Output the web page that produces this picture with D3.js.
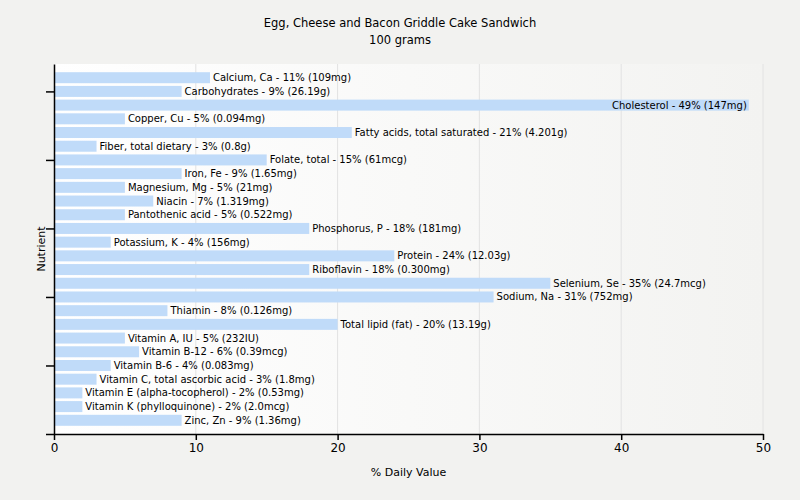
<!DOCTYPE html>
<meta charset="utf-8">
<style>
body { margin: 0; background: #f2f2f0; }
text { font-family: "DejaVu Sans", "Liberation Sans", sans-serif; fill: #000; }
</style>
<body>
<script src="https://d3js.org/d3.v7.min.js"></script>
<script>

// nutrient names, % daily value, and the amount shown in brackets
var nutrients = ["Calcium, Ca", "Carbohydrates", "Cholesterol", "Copper, Cu",
  "Fatty acids, total saturated", "Fiber, total dietary", "Folate, total", "Iron, Fe",
  "Magnesium, Mg", "Niacin", "Pantothenic acid", "Phosphorus, P", "Potassium, K",
  "Protein", "Riboflavin", "Selenium, Se", "Sodium, Na", "Thiamin", "Total lipid (fat)",
  "Vitamin A, IU", "Vitamin B-12", "Vitamin B-6", "Vitamin C, total ascorbic acid",
  "Vitamin E (alpha-tocopherol)", "Vitamin K (phylloquinone)", "Zinc, Zn"];
var dailyValues = [11, 9, 49, 5, 21, 3, 15, 9, 5, 7, 5, 18, 4, 24, 18, 35, 31, 8, 20, 5, 6, 4, 3, 2, 2, 9];
var amounts = ["109mg", "26.19g", "147mg", "0.094mg", "4.201g", "0.8g", "61mcg", "1.65mg",
  "21mg", "1.319mg", "0.522mg", "181mg", "156mg", "12.03g", "0.300mg", "24.7mcg", "752mg",
  "0.126mg", "13.19g", "232IU", "0.39mcg", "0.083mg", "1.8mg", "0.53mg", "2.0mcg", "1.36mg"];
var xTicks = [0, 10, 20, 30, 40, 50];
var yTicks = [0, 5, 10, 15, 20, 25];

var W = 800, H = 500;
var pLeft = 54, pRight = 763, pTop = 64, pBottom = 434;

var svg = d3.select("body").append("svg")
    .attr("width", W).attr("height", H);

var grad = svg.append("defs").append("linearGradient")
    .attr("id", "bg").attr("x1", "0").attr("x2", "1").attr("y1", "0").attr("y2", "0");
grad.append("stop").attr("offset", "0").attr("stop-color", "#ffffff");
grad.append("stop").attr("offset", "1").attr("stop-color", "#f3f3f1");

var x = d3.scaleLinear().domain([0, 50]).range([pLeft, pRight]);
// categories sit on positions 1..26 counted from the bottom
var y = d3.scaleLinear().domain([0, 27]).range([pBottom, pTop]);
function pos(i) { return nutrients.length - i; }

svg.append("rect")
    .attr("x", pLeft).attr("y", pTop)
    .attr("width", pRight - pLeft).attr("height", pBottom - pTop)
    .attr("fill", "url(#bg)");

// vertical grid
svg.selectAll(".grid").data(xTicks.slice(1)).enter().append("line")
    .attr("x1", function(d) { return x(d); }).attr("x2", function(d) { return x(d); })
    .attr("y1", pTop).attr("y2", pBottom)
    .attr("stroke", "#e2e2e2").attr("stroke-width", 1);

var barH = 11;
svg.selectAll(".bar").data(dailyValues).enter().append("rect")
    .attr("x", x(0))
    .attr("y", function(d, i) { return y(pos(i)) - barH / 2; })
    .attr("width", function(d) { return x(d) - x(0); })
    .attr("height", barH)
    .attr("fill", "#c0dbf9");

svg.selectAll(".lbl").data(dailyValues).enter().append("text")
    .attr("font-size", "10px")
    .attr("dy", "0.35em")
    .attr("y", function(d, i) { return y(pos(i)); })
    .text(function(d, i) { return nutrients[i] + " - " + d + "% (" + amounts[i] + ")"; })
    .each(function(d) {
      var t = d3.select(this);
      var w = this.getComputedTextLength();
      if (x(d) + 3 + w > pRight) {
        t.attr("x", x(d) - 2).attr("text-anchor", "end");
      } else {
        t.attr("x", x(d) + 3);
      }
    });

// axes
var xAxis = svg.append("g")
    .attr("transform", "translate(0," + pBottom + ")")
    .call(d3.axisBottom(x).tickValues(xTicks).tickSize(6).tickSizeOuter(0).tickPadding(3));
xAxis.selectAll("text").attr("font-size", "12px");

var yAxis = svg.append("g")
    .attr("transform", "translate(" + pLeft + ",0)")
    .call(d3.axisLeft(y).tickValues(yTicks).tickSize(8).tickSizeOuter(0).tickFormat(""));

svg.selectAll(".domain, .tick line").attr("stroke", "#000").attr("stroke-width", 1.5);

svg.append("text")
    .attr("x", W / 2).attr("y", 27)
    .attr("text-anchor", "middle").attr("font-size", "11.5px")
    .text("Egg, Cheese and Bacon Griddle Cake Sandwich");
svg.append("text")
    .attr("x", W / 2).attr("y", 44)
    .attr("text-anchor", "middle").attr("font-size", "11.5px")
    .text("100 grams");

svg.append("text")
    .attr("x", (pLeft + pRight) / 2).attr("y", 476)
    .attr("text-anchor", "middle").attr("font-size", "11px")
    .text("% Daily Value");

svg.append("text")
    .attr("transform", "translate(45," + ((pTop + pBottom) / 2) + ") rotate(-90)")
    .attr("text-anchor", "middle").attr("font-size", "11px")
    .text("Nutrient");

</script>
</body>
